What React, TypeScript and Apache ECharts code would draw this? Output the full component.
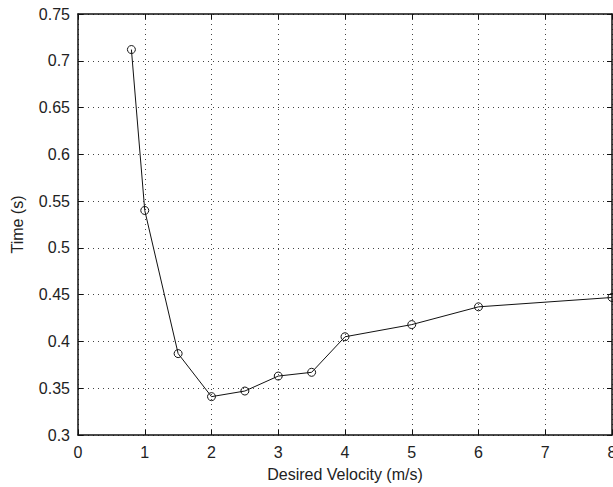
import React, { useEffect, useRef } from "react";
import * as echarts from "echarts";

const velocities = [0.8, 1, 1.5, 2, 2.5, 3, 3.5, 4, 5, 6, 8];
const times = [0.712, 0.54, 0.387, 0.341, 0.347, 0.363, 0.367, 0.405, 0.418, 0.437, 0.447];
const xTitle = "Desired Velocity (m/s)";
const yTitle = "Time (s)";

export default function App() {
  const ref = useRef<HTMLDivElement>(null);
  useEffect(() => {
    document.body.style.margin = "0";
    const chart = echarts.init(ref.current!, null, { renderer: "svg" });
    const font = "Liberation Sans, Arial, Helvetica, sans-serif";
    const split = { show: true, lineStyle: { color: "#444", type: [1, 4], width: 1 } };
    const axLine = { show: true, onZero: false, lineStyle: { color: "#111", width: 1.5 } };
    const tick = { show: true, inside: true, length: 5, lineStyle: { color: "#111", width: 1 } };
    chart.setOption({
      animation: false,
      backgroundColor: "#fff",
      grid: { left: 78, top: 14, right: 1, bottom: 52, containLabel: false, outerBoundsMode: "none" },
      xAxis: [
        {
          type: "value", min: 0, max: 8, interval: 1,
          name: xTitle, nameLocation: "middle", nameGap: 31,
          nameTextStyle: { fontFamily: font, fontSize: 16, color: "#222" },
          axisLine: axLine, axisTick: tick, splitLine: split,
          axisLabel: { fontFamily: font, fontSize: 16, color: "#222", margin: 9, alignMaxLabel: "center", alignMinLabel: "center", hideOverlap: false },
        },
        {
          type: "value", min: 0, max: 8, interval: 1, position: "top",
          axisLine: axLine, axisTick: tick, splitLine: { show: false }, axisLabel: { show: false },
        },
      ],
      yAxis: [
        {
          type: "value", min: 0.3, max: 0.75, interval: 0.05,
          name: yTitle, nameLocation: "middle", nameGap: 53,
          nameTextStyle: { fontFamily: font, fontSize: 16, color: "#222" },
          axisLine: axLine, axisTick: tick, splitLine: split,
          axisLabel: {
            fontFamily: font, fontSize: 16, color: "#222", margin: 8,
            formatter: (v: number) => String(parseFloat(v.toFixed(2))),
          },
        },
        {
          type: "value", min: 0.3, max: 0.75, interval: 0.05, position: "right",
          axisLine: axLine, axisTick: tick, splitLine: { show: false }, axisLabel: { show: false },
        },
      ],
      series: [
        {
          type: "line",
          data: velocities.map((v, i) => [v, times[i]]),
          symbol: "circle",
          symbolSize: 8,
          itemStyle: { color: "transparent", borderColor: "#111", borderWidth: 1 },
          lineStyle: { color: "#111", width: 1 },
        },
      ],
    });
    return () => chart.dispose();
  }, []);
  return <div ref={ref} style={{ width: 613, height: 487 }} />;
}
